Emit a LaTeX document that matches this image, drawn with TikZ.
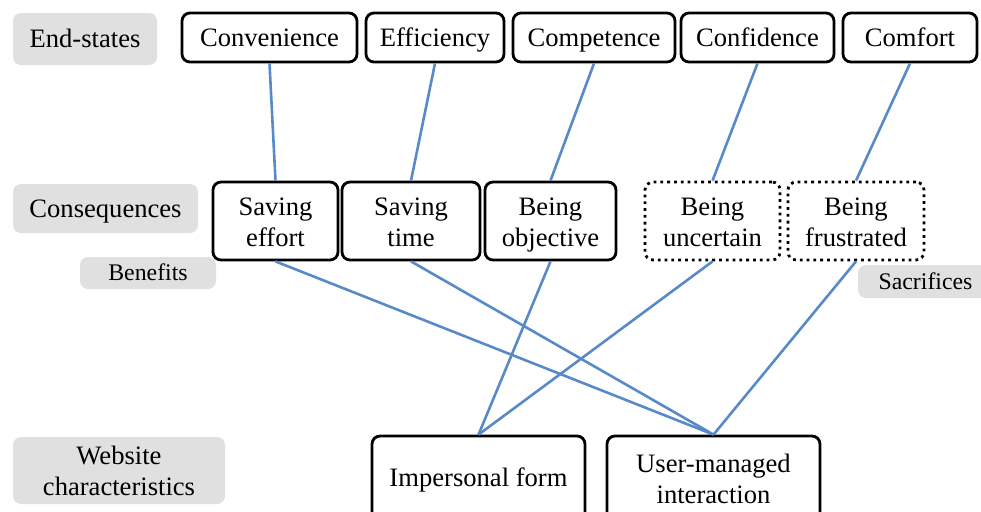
\documentclass[tikz,border=0pt]{standalone}
\usepackage{fontspec}
\setmainfont{Liberation Serif}
\definecolor{linkblue}{RGB}{88,138,200}
\definecolor{graybg}{RGB}{224,224,224}
\newcommand\topstr{\rule{0pt}{12.5pt}}
\newcommand\botstr{\rule[-3pt]{0pt}{3pt}}
\begin{document}
\begin{tikzpicture}[x=0.5pt,y=-0.5pt,
  every node/.style={font=\fontsize{13.3}{15.5}\selectfont, align=center, inner sep=0pt},
  one/.style={text height=8.8pt, text depth=0pt},
  cbox/.style={draw=black, line width=1.4pt, rounded corners=4pt, minimum height=#1},
  cbox/.default=24.5pt,
  dbox/.style={draw=black, line width=1.4pt, dotted, rounded corners=4pt, minimum height=39pt},
  glabel/.style={fill=graybg, rounded corners=4pt},
  small/.style={font=\fontsize{11.9}{14}\selectfont, text height=7.9pt, text depth=0pt},
  link/.style={draw=linkblue, line width=1.3pt}]
\useasboundingbox (0,0) rectangle (981,511);
\clip (0,0) rectangle (981,511);
% gray level labels
\node[glabel, one, minimum width=72pt, minimum height=26pt] (ges) at (85,39) {End-states};
\node[glabel, one, minimum width=92.5pt, minimum height=24.5pt] (gcs) at (105.5,208.5) {Consequences};
\node[glabel, small, minimum width=68pt, minimum height=16pt] (gben) at (148,273) {Benefits};
\node[glabel, small, minimum width=67.5pt, minimum height=16.5pt] (gsac) at (925.5,281.5) {Sacrifices};
\node[glabel, minimum width=106pt, minimum height=33.5pt] (gwc) at (119,470.5) {\topstr Website\\characteristics\botstr};
% end-states
\node[cbox, one, minimum width=87.5pt] (conv) at (269.5,37.5) {Convenience};
\node[cbox, one, minimum width=69pt] (effi) at (435,37.5) {Efficiency};
\node[cbox, one, minimum width=81pt] (comp) at (594,37.5) {Competence};
\node[cbox, one, minimum width=76.5pt] (conf) at (757.5,37.5) {Confidence};
\node[cbox, one, minimum width=67pt] (comf) at (910,37.5) {Comfort};
% consequences
\node[cbox=39pt, minimum width=62.5pt] (seff) at (275.5,221) {\topstr Saving\\effort\botstr};
\node[cbox=39pt, minimum width=69pt] (stim) at (411,221) {\topstr Saving\\time\botstr};
\node[cbox=39pt, minimum width=65.5pt] (bobj) at (550.5,221) {\topstr Being\\objective\botstr};
\node[dbox, minimum width=67.5pt] (bunc) at (712.5,221) {\topstr Being\\uncertain\botstr};
\node[dbox, minimum width=68pt] (bfru) at (856,221) {\topstr Being\\frustrated\botstr};
% website characteristics
\node[cbox=42pt, one, minimum width=106.5pt] (imp) at (478.5,478) {Impersonal form};
\node[cbox=42pt, minimum width=106.5pt] (umi) at (713.5,478) {\topstr User-managed\\interaction\botstr};
% links
\draw[link] (conv.south) -- (seff.north);
\draw[link] (effi.south) -- (stim.north);
\draw[link] (comp.south) -- (bobj.north);
\draw[link] (conf.south) -- (bunc.north);
\draw[link] (comf.south) -- (bfru.north);
\draw[link] (seff.south) -- (umi.north);
\draw[link] (stim.south) -- (umi.north);
\draw[link] (bobj.south) -- (imp.north);
\draw[link] (bunc.south) -- (imp.north);
\draw[link] (bfru.south) -- (umi.north);
\end{tikzpicture}
\end{document}
